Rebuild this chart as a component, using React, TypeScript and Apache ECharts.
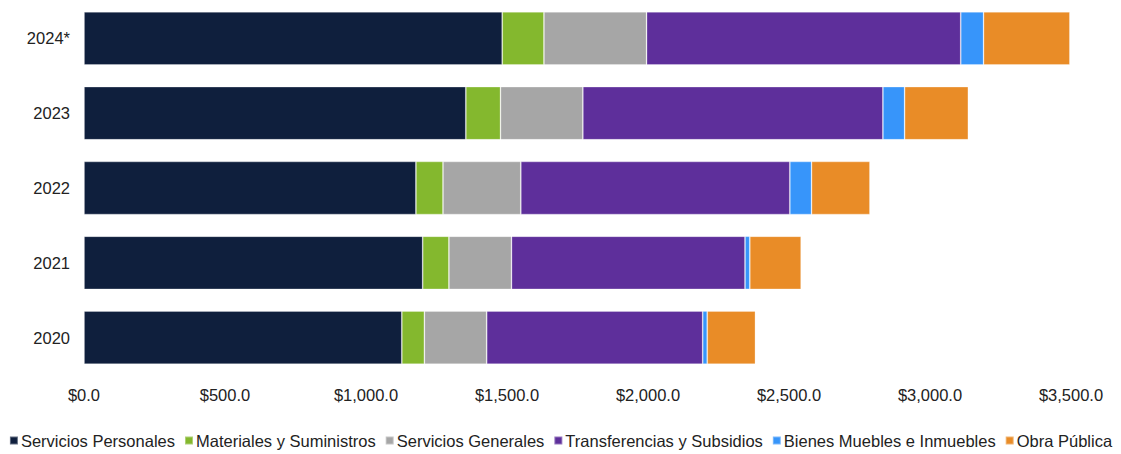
import React, { useEffect, useRef } from "react";
import * as echarts from "echarts";

const categories = ["2020", "2021", "2022", "2023", "2024*"];
const seriesNames = [
  "Servicios Personales",
  "Materiales y Suministros",
  "Servicios Generales",
  "Transferencias y Subsidios",
  "Bienes Muebles e Inmuebles",
  "Obra Pública",
];
const serviciosPersonales = [1127, 1201, 1177, 1354, 1483];
const materiales = [80, 93, 96, 123, 148];
const serviciosGenerales = [221, 222, 276, 292, 364];
const transferencias = [766, 828, 954, 1064, 1114];
const bienes = [16, 17, 77, 77, 81];
const obraPublica = [171, 182, 207, 226, 306];
const colors = ["#0f1f3d", "#84b82e", "#a6a6a6", "#5e2f9b", "#3795fa", "#e98c27"];

export default function App() {
  const ref = useRef<HTMLDivElement>(null);
  useEffect(() => {
    document.body.style.margin = "0";
    const chart = echarts.init(ref.current!, null, { renderer: "svg" });
    const data = [serviciosPersonales, materiales, serviciosGenerales, transferencias, bienes, obraPublica];
    chart.setOption({
      animation: false,
      textStyle: { fontFamily: "Liberation Sans, Arial, sans-serif" },
      grid: { left: 84, right: 50, top: 1, bottom: 79, containLabel: false },
      legend: {
        top: 432,
        left: "center",
        padding: 0,
        itemWidth: 8,
        itemHeight: 8,
        itemGap: 9,
        icon: "rect",
        textStyle: { fontSize: 16.5, color: "#222", padding: [0, 0, 0, -2] },
        data: seriesNames,
      },
      xAxis: {
        type: "value",
        min: 0,
        max: 3500,
        interval: 500,
        axisLine: { show: false },
        axisTick: { show: false },
        splitLine: { show: false },
        axisLabel: {
          fontSize: 16.5,
          color: "#222",
          margin: 11,
          formatter: (v: number) =>
            "$" + v.toLocaleString("en-US", { minimumFractionDigits: 1, maximumFractionDigits: 1 }),
        },
      },
      yAxis: {
        type: "category",
        data: categories,
        axisLine: { show: false },
        axisTick: { show: false },
        axisLabel: { fontSize: 16.5, color: "#222", margin: 14 },
      },
      series: seriesNames.map((name, i) => ({
        name,
        type: "bar",
        stack: "total",
        data: data[i],
        barCategoryGap: "29%",
        itemStyle: { color: colors[i], borderColor: "rgba(255,255,255,0.35)", borderWidth: 0.8 },
      })),
    });
    return () => chart.dispose();
  }, []);
  return <div ref={ref} style={{ width: 1121, height: 454 }} />;
}
